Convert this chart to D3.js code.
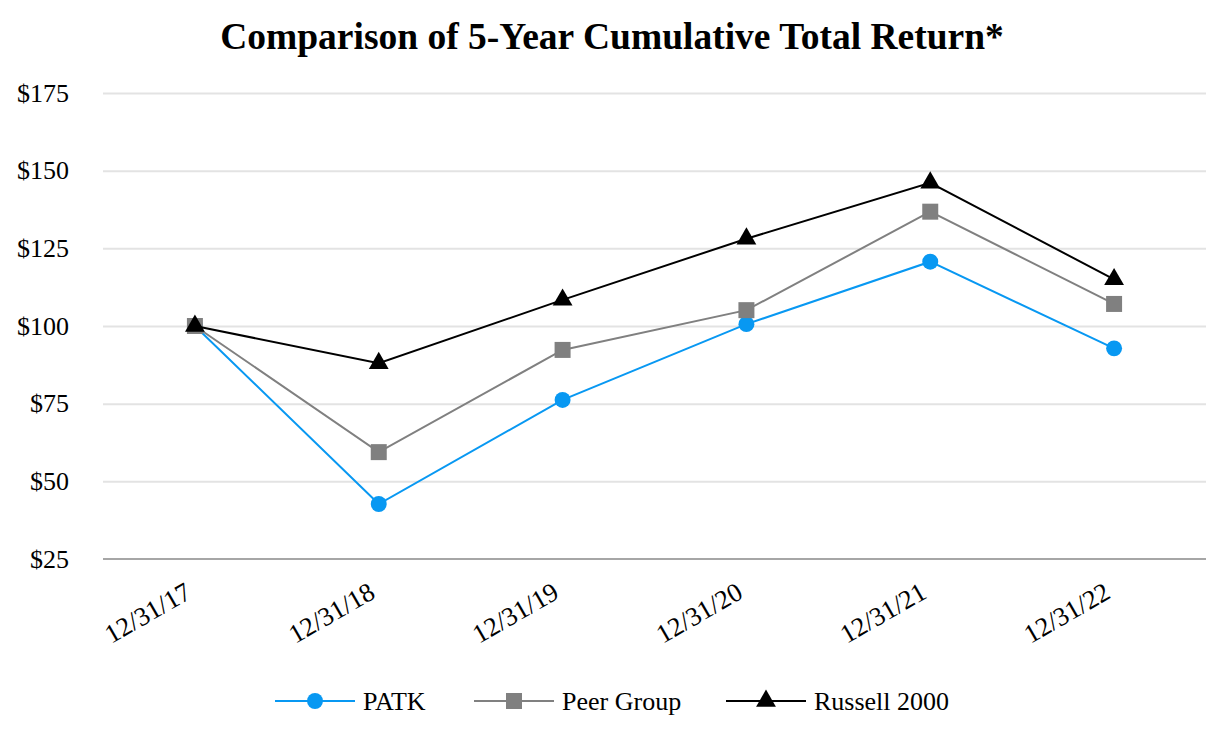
<!DOCTYPE html>
<html>
<head>
<meta charset="utf-8">
<script src="https://cdn.jsdelivr.net/npm/d3@7"></script>
<style>
  body { margin: 0; background: #fff; }
  text { font-family: "Liberation Serif", "Times New Roman", serif; }
</style>
</head>
<body>
<div id="chart"></div>
<script>
// chart data
const dates = ["12/31/17", "12/31/18", "12/31/19", "12/31/20", "12/31/21", "12/31/22"];
const patk = [100, 42.7, 76.2, 100.6, 120.7, 92.8];
const peerGroup = [100, 59.4, 92.3, 105.1, 136.8, 107.1];
const russell2000 = [100, 88, 108.4, 128.1, 146.1, 115];
const yTicks = [25, 50, 75, 100, 125, 150, 175];

const series = [
  { name: "PATK", values: patk, color: "#0898f2", symbol: d3.symbolCircle, size: 200 },
  { name: "Peer Group", values: peerGroup, color: "#808080", symbol: d3.symbolSquare, size: 256 },
  { name: "Russell 2000", values: russell2000, color: "#000000", symbol: d3.symbolTriangle, size: 170 }
];

function drawChart() {
  const width = 1226, height = 746;
  const margin = { top: 93, right: 20, bottom: 187, left: 103 };

  const svg = d3.select("#chart")
      .append("svg")
      .attr("width", width)
      .attr("height", height);

  const x = d3.scalePoint()
      .domain(dates)
      .range([margin.left, width - margin.right])
      .padding(0.5);

  const y = d3.scaleLinear()
      .domain([25, 175])
      .range([height - margin.bottom, margin.top]);

  // title
  svg.append("text")
      .attr("x", 612)
      .attr("y", 49)
      .attr("text-anchor", "middle")
      .style("font-size", "37.5px")
      .style("font-weight", "bold")
      .text("Comparison of 5-Year Cumulative Total Return*");

  // gridlines
  svg.append("g")
      .attr("transform", `translate(${margin.left}, 0)`)
      .call(d3.axisLeft(y).tickValues(yTicks.slice(1)).tickFormat("").tickSize(-(width - margin.left - margin.right)))
      .call(g => g.select(".domain").remove())
      .call(g => g.selectAll("line").attr("stroke", "#e3e3e3").attr("stroke-width", 2));

  // y labels
  svg.append("g")
      .attr("transform", `translate(${margin.left}, 0)`)
      .call(d3.axisLeft(y).tickValues(yTicks).tickFormat(d => "$" + d).tickSize(0).tickPadding(34))
      .call(g => g.select(".domain").remove())
      .call(g => g.selectAll("text")
          .style("font-size", "26px")
          .style("font-family", "'Liberation Serif', serif")
          .attr("fill", "#000"));

  // x axis line
  svg.append("g")
      .attr("transform", `translate(0, ${y(25)})`)
      .call(d3.axisBottom(x).tickSize(0).tickFormat(""))
      .call(g => g.select(".domain")
          .attr("d", `M${margin.left},0H${width - margin.right}`)
          .attr("stroke", "#a6a6a6")
          .attr("stroke-width", 2));

  // x labels
  svg.append("g")
      .selectAll("text")
      .data(dates)
      .join("text")
      .attr("transform", d => `translate(${x(d) - 2}, 597) rotate(-30)`)
      .attr("text-anchor", "end")
      .style("font-size", "26.5px")
      .text(d => d);

  const line = d3.line()
      .x((d, i) => x(dates[i]))
      .y(d => y(d));

  series.forEach(s => {
    svg.append("path")
        .datum(s.values)
        .attr("fill", "none")
        .attr("stroke", s.color)
        .attr("stroke-width", 2)
        .attr("d", line);

    svg.append("g")
        .selectAll("path")
        .data(s.values)
        .join("path")
        .attr("transform", (d, i) => `translate(${x(dates[i])}, ${y(d)})`)
        .attr("d", d3.symbol().type(s.symbol).size(s.size))
        .attr("fill", s.color);
  });

  // legend
  const legendX = [275, 474, 726];
  const legend = svg.append("g")
      .selectAll("g")
      .data(series)
      .join("g")
      .attr("transform", (d, i) => `translate(${legendX[i]}, 701)`);

  legend.append("line")
      .attr("x1", 0).attr("x2", 80)
      .attr("stroke", d => d.color)
      .attr("stroke-width", 2);

  legend.append("path")
      .attr("transform", "translate(40, 0)")
      .attr("d", d => d3.symbol().type(d.symbol).size(d.size)())
      .attr("fill", d => d.color);

  legend.append("text")
      .attr("x", 88)
      .attr("dy", "0.35em")
      .style("font-size", "26px")
      .text(d => d.name);
}

drawChart();
</script>
</body>
</html>
